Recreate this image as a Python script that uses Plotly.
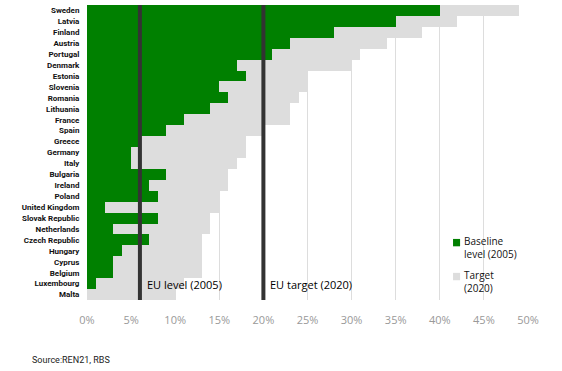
import plotly.graph_objects as go

countries = ["Sweden", "Latvia", "Finland", "Austria", "Portugal", "Denmark", "Estonia",
             "Slovenia", "Romania", "Lithuania", "France", "Spain", "Greece", "Germany",
             "Italy", "Bulgaria", "Ireland", "Poland", "United Kingdom", "Slovak Republic",
             "Netherlands", "Czech Republic", "Hungary", "Cyprus", "Belgium", "Luxembourg", "Malta"]
baseline_2005 = [40, 35, 28, 23, 21, 17, 18, 15, 16, 14, 11, 9, 6, 5,
                 5, 9, 7, 8, 2, 8, 3, 7, 4, 3, 3, 1, 0]
target_2020 = [49, 42, 38, 34, 31, 30, 25, 25, 24, 23, 23, 20, 18, 18,
               17, 16, 16, 15, 15, 14, 14, 13, 13, 13, 13, 11, 10]
tick_vals = [0, 5, 10, 15, 20, 25, 30, 35, 40, 45, 50]
tick_text = ["0%", "5%", "10%", "15%", "20%", "25%", "30%", "35%", "40%", "45%", "50%"]
EU_LEVEL_2005 = 6
EU_TARGET_2020 = 20

GREEN = "#008000"
GREY = "#dddddd"

fig = go.Figure()
fig.add_trace(go.Bar(y=countries, x=target_2020, orientation="h", marker=dict(color=GREY, line=dict(width=0)),
                     name="Target (2020)", showlegend=False, hoverinfo="skip"))
fig.add_trace(go.Bar(y=countries, x=baseline_2005, orientation="h", marker=dict(color=GREEN, line=dict(width=0)),
                     name="Baseline level (2005)", showlegend=False, hoverinfo="skip"))

for v in (EU_LEVEL_2005, EU_TARGET_2020):
    fig.add_vline(x=v, line=dict(color="#333333", width=4), layer="above")

fig.add_annotation(x=EU_LEVEL_2005, y="Luxembourg", text="EU level (2005)", showarrow=False,
                   xanchor="left", xshift=5, yshift=-1,
                   font=dict(family="Open Sans", size=11, color="#000000"))
fig.add_annotation(x=EU_TARGET_2020, y="Luxembourg", text="EU target (2020)", showarrow=False,
                   xanchor="left", xshift=5, yshift=-1,
                   font=dict(family="Open Sans", size=11, color="#000000"))
fig.add_annotation(x=0, y=0, xref="paper", yref="paper", xanchor="left", yanchor="middle",
                   xshift=-57, yshift=-60, text="Source:REN21, RBS", showarrow=False,
                   font=dict(family="Roboto", size=9, color="#222222"))

# custom legend
legend_items = [("Baseline<br>level (2005)", GREEN, 0.207), ("Target<br>(2020)", GREY, 0.092)]
for label, col, ytop in legend_items:
    fig.add_shape(type="rect", xref="paper", yref="paper", x0=0.830, x1=0.846,
                  y0=ytop - 0.025, y1=ytop, fillcolor=col, line=dict(width=0))
    fig.add_annotation(x=0.846, y=ytop + 0.022, xref="paper", yref="paper", xanchor="left",
                       yanchor="top", xshift=2, text=label, showarrow=False, align="left",
                       font=dict(family="Open Sans", size=10, color="#111111"))

fig.update_layout(
    width=562, height=371,
    margin=dict(l=87, r=34, t=5, b=71),
    paper_bgcolor="white", plot_bgcolor="white",
    barmode="overlay", bargap=0,
    xaxis=dict(range=[0, 50], tickvals=tick_vals, ticktext=tick_text, showgrid=True,
               gridcolor="#dddddd", gridwidth=1, zeroline=False, showline=False,
               ticklabelstandoff=12, automargin=False,
               tickfont=dict(family="Open Sans", size=11, color="#999999")),
    yaxis=dict(autorange="reversed", showgrid=False, zeroline=False, showline=False,
               tickmode="array", tickvals=countries, ticktext=countries, automargin=False,
               ticks="outside", ticklen=5, tickcolor="rgba(0,0,0,0)",
               tickfont=dict(family="Roboto", size=8, color="#111111", weight="bold")),
    showlegend=False,
)

fig.write_html("out.html", config={"displayModeBar": False},
               post_script="document.body.style.margin='0';document.body.style.overflow='hidden';")
